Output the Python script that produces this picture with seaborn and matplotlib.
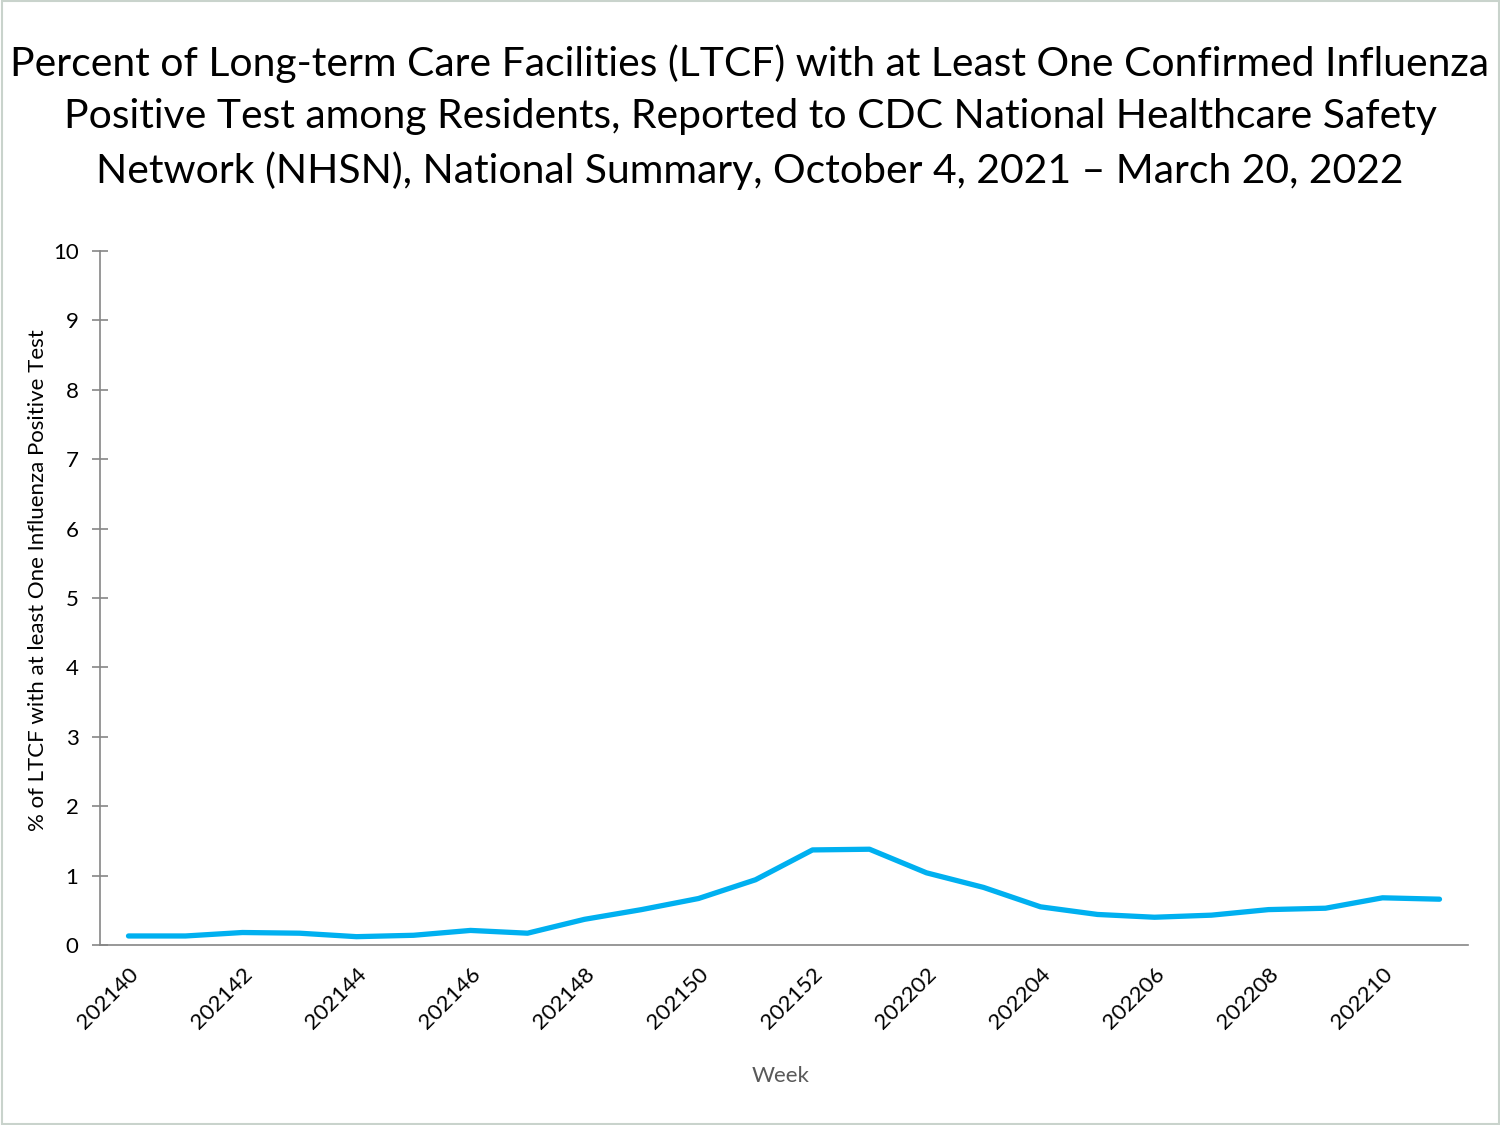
import matplotlib
matplotlib.use("Agg")
import matplotlib.pyplot as plt
import seaborn as sns
import pandas as pd
import numpy as np
from matplotlib.ticker import FixedLocator, FixedFormatter

weeks = ["202140", "202141", "202142", "202143", "202144", "202145", "202146", "202147",
         "202148", "202149", "202150", "202151", "202152", "202201", "202202", "202203",
         "202204", "202205", "202206", "202207", "202208", "202209", "202210", "202211"]
percent = [0.13, 0.13, 0.18, 0.17, 0.12, 0.14, 0.21, 0.17,
           0.37, 0.51, 0.67, 0.94, 1.37, 1.38, 1.04, 0.83,
           0.55, 0.44, 0.40, 0.43, 0.51, 0.53, 0.68, 0.66]
yticks = [0, 1, 2, 3, 4, 5, 6, 7, 8, 9, 10]

title = ("Percent of Long-term Care Facilities (LTCF) with at Least One Confirmed Influenza\n"
         "Positive Test among Residents, Reported to CDC National Healthcare Safety\n"
         "Network (NHSN), National Summary, October 4, 2021 \u2013 March 20, 2022")

sns.set_theme(style="white")
plt.rcParams['font.family'] = ['Lato', 'DejaVu Sans']

df = pd.DataFrame({"idx": np.arange(len(weeks)), "week": weeks, "pct": percent})

fig = plt.figure(figsize=(15, 11.25), dpi=100)
ax = fig.add_axes([100/1500, 1-945/1125, (1468-100)/1500, (945-251)/1125])

sns.lineplot(data=df, x="idx", y="pct", ax=ax, color="#00B0F0", linewidth=3.8)

ax.set_xlim(-0.5, len(weeks) - 0.5)
ax.set_ylim(0, 10)

axis_col = "#868686"
for s in ["top", "right"]:
    ax.spines[s].set_visible(False)
for s in ["left", "bottom"]:
    ax.spines[s].set_color(axis_col)
    ax.spines[s].set_linewidth(1.2)

major = list(range(0, len(weeks), 2))
ax.xaxis.set_major_locator(FixedLocator(major))
ax.xaxis.set_major_formatter(FixedFormatter([weeks[i] for i in major]))
ax.xaxis.set_minor_locator(FixedLocator(np.arange(-0.5, len(weeks), 1.0)))
ax.tick_params(axis="x", which="major", length=0, labelsize=16, pad=14, labelcolor="black")
ax.tick_params(axis="x", which="minor", length=10, direction="inout", color=axis_col, width=1.2)
for lab in ax.get_xticklabels():
    lab.set_rotation(45)
    lab.set_ha("right")
    lab.set_va("top")
    lab.set_rotation_mode("anchor")

ax.set_yticks(yticks)
ax.tick_params(axis="y", which="major", length=11, direction="inout", color=axis_col,
               width=1.2, labelsize=16, pad=10, labelcolor="black", left=True)

ax.set_xlabel("Week", fontsize=16, color="#595959")
ax.xaxis.set_label_coords((781-100)/1368, (945-1076)/694)
ax.xaxis.label.set_va("center")
ax.set_ylabel("% of LTCF with at least One Influenza Positive Test", fontsize=16,
              color="black")
ax.yaxis.set_label_coords((38-100)/1368, (945-580)/694)
ax.yaxis.label.set_va("center")
ax.grid(False)

fig.text(0.5, 1-117/1125, title, ha="center", va="center", fontsize=29.4,
         linespacing=1.5, color="black")

fig.patches.append(plt.Rectangle((0.001, 0.001), 0.998, 0.998, transform=fig.transFigure,
                                 fill=False, edgecolor="#C9D3CC", linewidth=1.5))

fig.savefig("out.png", dpi=100)
